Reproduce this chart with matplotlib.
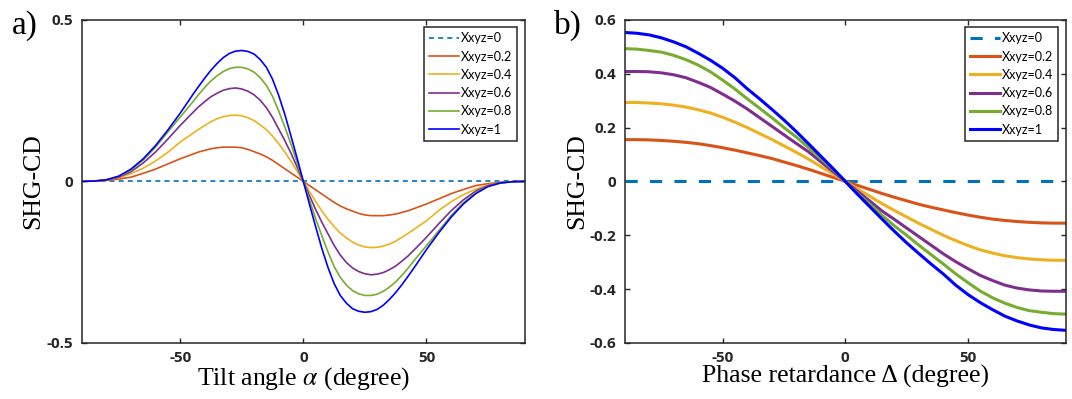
import matplotlib

matplotlib.use("Agg")
import matplotlib.pyplot as plt

labels = ["Xxyz=0", "Xxyz=0.2", "Xxyz=0.4", "Xxyz=0.6", "Xxyz=0.8", "Xxyz=1"]
colors = ["#0072BD", "#D95319", "#EDB120", "#7E2F8E", "#77AC30", "#0000FF"]

# panel a) SHG-CD vs tilt angle (degree), denser sampling around the peaks
tilt_deg = [-90, -85, -80, -75, -70, -65, -60, -55, -50, -45,
            -42.5, -40, -37.5, -35, -32.5, -30, -27.5, -25, -22.5, -20, -17.5, -15, -12.5, -10, -7.5, -5, -2.5,
            0, 2.5, 5, 7.5, 10, 12.5, 15, 17.5, 20, 22.5, 25, 27.5, 30, 32.5, 35, 37.5, 40, 42.5,
            45, 50, 55, 60, 65, 70, 75, 80, 85, 90]
tilt_x0 = [0.0] * 55
tilt_x02 = [0, 0.001, 0.003, 0.007, 0.013, 0.025, 0.038, 0.054, 0.070, 0.084,
            0.091, 0.096, 0.101, 0.104, 0.106, 0.106, 0.106, 0.104, 0.099, 0.092, 0.085, 0.076, 0.065, 0.052,
            0.039, 0.026, 0.013,
            0,
            -0.013, -0.026, -0.039, -0.052, -0.065, -0.076, -0.085, -0.092, -0.099, -0.104, -0.106, -0.106,
            -0.106, -0.104, -0.101, -0.096, -0.091,
            -0.084, -0.070, -0.054, -0.038, -0.025, -0.013, -0.007, -0.003, -0.001, 0]
tilt_x04 = [0, 0.001, 0.004, 0.011, 0.024, 0.041, 0.063, 0.090, 0.122, 0.148,
            0.161, 0.173, 0.185, 0.194, 0.200, 0.204, 0.205, 0.203, 0.197, 0.188, 0.175, 0.160, 0.140, 0.117,
            0.091, 0.062, 0.031,
            0,
            -0.031, -0.062, -0.091, -0.117, -0.140, -0.160, -0.175, -0.188, -0.197, -0.203, -0.205, -0.204,
            -0.200, -0.194, -0.185, -0.173, -0.161,
            -0.148, -0.122, -0.090, -0.063, -0.041, -0.024, -0.011, -0.004, -0.001, 0]
tilt_x06 = [0, 0.001, 0.004, 0.013, 0.030, 0.057, 0.091, 0.131, 0.173, 0.212,
            0.231, 0.247, 0.262, 0.273, 0.282, 0.287, 0.289, 0.286, 0.279, 0.268, 0.251, 0.228, 0.198, 0.162,
            0.126, 0.087, 0.044,
            0,
            -0.044, -0.087, -0.126, -0.162, -0.198, -0.228, -0.251, -0.268, -0.279, -0.286, -0.289, -0.287,
            -0.282, -0.273, -0.262, -0.247, -0.231,
            -0.212, -0.173, -0.131, -0.091, -0.057, -0.030, -0.013, -0.004, -0.001, 0]
tilt_x08 = [0, 0.001, 0.005, 0.015, 0.035, 0.066, 0.106, 0.153, 0.199, 0.245,
            0.269, 0.291, 0.311, 0.327, 0.340, 0.349, 0.353, 0.353, 0.348, 0.338, 0.321, 0.297, 0.263, 0.218,
            0.168, 0.115, 0.058,
            0,
            -0.058, -0.115, -0.168, -0.218, -0.263, -0.297, -0.321, -0.338, -0.348, -0.353, -0.353, -0.349,
            -0.340, -0.327, -0.311, -0.291, -0.269,
            -0.245, -0.199, -0.153, -0.106, -0.066, -0.035, -0.015, -0.005, -0.001, 0]
tilt_x1 = [0, 0.001, 0.005, 0.016, 0.038, 0.070, 0.111, 0.159, 0.211, 0.267,
           0.294, 0.320, 0.344, 0.365, 0.383, 0.396, 0.403, 0.405, 0.402, 0.394, 0.377, 0.353, 0.316, 0.266,
           0.207, 0.140, 0.071,
           0,
           -0.071, -0.140, -0.207, -0.266, -0.316, -0.353, -0.377, -0.394, -0.402, -0.405, -0.403, -0.396,
           -0.383, -0.365, -0.344, -0.320, -0.294,
           -0.267, -0.211, -0.159, -0.111, -0.070, -0.038, -0.016, -0.005, -0.001, 0]

# panel b) SHG-CD vs phase retardance (degree)
phase_deg = [-90, -85, -80, -75, -70, -65, -60, -55, -50, -45, -40, -35, -30, -25, -20, -15, -10, -5, 0,
             5, 10, 15, 20, 25, 30, 35, 40, 45, 50, 55, 60, 65, 70, 75, 80, 85, 90]
phase_x0 = [0.0] * 37
phase_x02 = [0.155, 0.155, 0.154, 0.152, 0.149, 0.145, 0.140, 0.133, 0.125, 0.116, 0.106, 0.096, 0.085,
             0.072, 0.059, 0.045, 0.030, 0.015, 0,
             -0.015, -0.030, -0.045, -0.059, -0.072, -0.085, -0.096, -0.106, -0.116, -0.125, -0.133, -0.140,
             -0.145, -0.149, -0.152, -0.154, -0.155, -0.155]
phase_x04 = [0.293, 0.293, 0.291, 0.288, 0.283, 0.276, 0.266, 0.254, 0.238, 0.220, 0.200, 0.178, 0.156,
             0.132, 0.108, 0.083, 0.055, 0.028, 0,
             -0.028, -0.055, -0.083, -0.108, -0.132, -0.156, -0.178, -0.200, -0.220, -0.238, -0.254, -0.266,
             -0.276, -0.283, -0.288, -0.291, -0.293, -0.293]
phase_x06 = [0.408, 0.408, 0.407, 0.403, 0.396, 0.385, 0.368, 0.349, 0.324, 0.298, 0.269, 0.237, 0.205,
             0.173, 0.141, 0.110, 0.073, 0.037, 0,
             -0.037, -0.073, -0.110, -0.141, -0.173, -0.205, -0.237, -0.269, -0.298, -0.324, -0.349, -0.368,
             -0.385, -0.396, -0.403, -0.407, -0.408, -0.408]
phase_x08 = [0.493, 0.491, 0.486, 0.480, 0.468, 0.452, 0.432, 0.407, 0.376, 0.343, 0.307, 0.272, 0.237,
             0.200, 0.165, 0.126, 0.085, 0.045, 0,
             -0.045, -0.085, -0.126, -0.165, -0.200, -0.237, -0.272, -0.307, -0.343, -0.376, -0.407, -0.432,
             -0.452, -0.468, -0.480, -0.486, -0.491, -0.493]
phase_x1 = [0.553, 0.550, 0.544, 0.533, 0.518, 0.500, 0.476, 0.450, 0.420, 0.385, 0.344, 0.307, 0.268,
            0.228, 0.185, 0.140, 0.094, 0.048, 0,
            -0.048, -0.094, -0.140, -0.185, -0.228, -0.268, -0.307, -0.344, -0.385, -0.420, -0.450, -0.476,
            -0.500, -0.518, -0.533, -0.544, -0.550, -0.553]

plt.rcParams["axes.unicode_minus"] = False
plt.rcParams["mathtext.fontset"] = "stix"

TICK_FONT = dict(family="Open Sans", weight="bold", size=11)
LABEL_FONT = dict(family="Liberation Serif", size=18.5)


def style_axes(ax):
    for sp in ax.spines.values():
        sp.set_linewidth(1.1)
        sp.set_color("#262626")
    ax.tick_params(direction="in", length=3.5, width=1.0, top=True, right=True, colors="#262626", pad=6)
    for lab in ax.get_xticklabels() + ax.get_yticklabels():
        lab.set_fontfamily(TICK_FONT["family"])
        lab.set_fontweight(TICK_FONT["weight"])
        lab.set_fontsize(TICK_FONT["size"])


fig = plt.figure(figsize=(10.72, 3.99), dpi=100)
ax_a = fig.add_axes([0.0762, 0.1404, 0.4135, 0.810])
ax_b = fig.add_axes([0.5826, 0.1404, 0.4118, 0.810])

series_a = [tilt_x0, tilt_x02, tilt_x04, tilt_x06, tilt_x08, tilt_x1]
series_b = [phase_x0, phase_x02, phase_x04, phase_x06, phase_x08, phase_x1]

for i, (ys, col, lab) in enumerate(zip(series_a, colors, labels)):
    if i == 0:
        ax_a.plot(tilt_deg, ys, color=col, lw=1.2, dashes=(3, 2.5), label=lab)
    else:
        ax_a.plot(tilt_deg, ys, color=col, lw=1.2, solid_joinstyle="round", label=lab)

for i, (ys, col, lab) in enumerate(zip(series_b, colors, labels)):
    if i == 0:
        ax_b.plot(phase_deg, ys, color=col, lw=2.2, dashes=(4, 4), label=lab)
    else:
        ax_b.plot(phase_deg, ys, color=col, lw=2.2, solid_joinstyle="round", label=lab)

ax_a.set_xlim(-90, 90)
ax_a.set_ylim(-0.5, 0.5)
ax_a.set_xticks([-50, 0, 50])
ax_a.set_yticks([-0.5, 0, 0.5])
ax_a.set_yticklabels(["-0.5", "0", "0.5"])
ax_a.set_xticklabels(["-50", "0", "50"])
ax_a.set_xlabel(r"Tilt angle $\alpha$ (degree)", **LABEL_FONT, labelpad=0)
ax_a.set_ylabel("SHG-CD", **LABEL_FONT, labelpad=2)

ax_b.set_xlim(-90, 90)
ax_b.set_ylim(-0.6, 0.6)
ax_b.set_xticks([-50, 0, 50])
ax_b.set_yticks([-0.6, -0.4, -0.2, 0, 0.2, 0.4, 0.6])
ax_b.set_yticklabels(["-0.6", "-0.4", "-0.2", "0", "0.2", "0.4", "0.6"])
ax_b.set_xticklabels(["-50", "0", "50"])
ax_b.set_xlabel("Phase retardance \u0394 (degree)", **LABEL_FONT, labelpad=0)
ax_b.set_ylabel("SHG-CD", **LABEL_FONT, labelpad=1)

for ax in (ax_a, ax_b):
    style_axes(ax)
    leg = ax.legend(loc="upper right", prop=dict(family="Lato", size=9), handlelength=2.4,
                    handletextpad=0.2, labelspacing=0.5, borderpad=0.4, borderaxespad=0.6,
                    fancybox=False, framealpha=1)
    leg.get_frame().set_edgecolor("#262626")
    leg.get_frame().set_linewidth(1.1)

fig.text(0.011, 0.975, "a)", family="Liberation Serif", size=24, va="top", ha="left")
fig.text(0.517, 0.975, "b)", family="Liberation Serif", size=24, va="top", ha="left")

fig.savefig("out.png", dpi=100)
